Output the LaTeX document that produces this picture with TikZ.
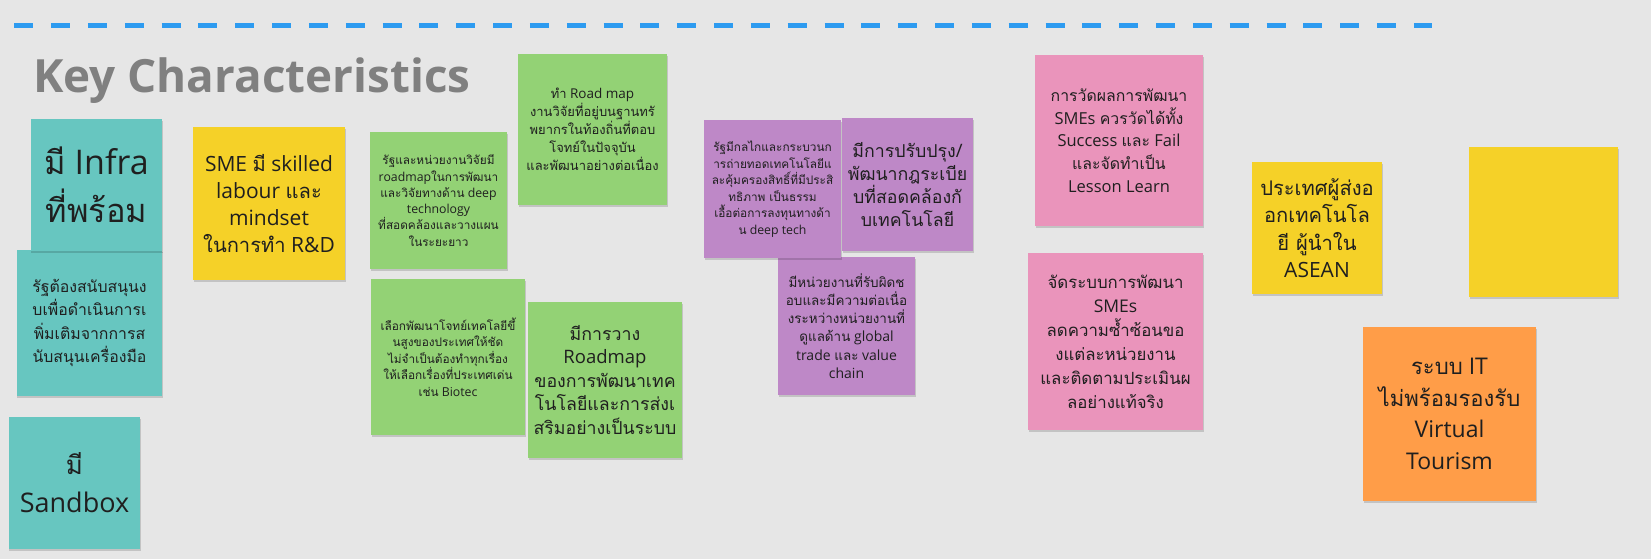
\documentclass[tikz,border=0pt]{standalone}
\usepackage{fontspec}
\setmainfont{Open Sans}
\newfontfamily\thaifont[Script=Thai,Scale=0.96]{Loma}
\newcommand\T[1]{{\thaifont #1}}
\usetikzlibrary{shadows}
\definecolor{bg}{HTML}{E6E6E6}
\definecolor{ink}{HTML}{1F1F1F}
\definecolor{titlegray}{HTML}{808080}
\definecolor{dashblue}{HTML}{2D9BF0}
\definecolor{cteal}{HTML}{67C6C0}
\definecolor{cyellow}{HTML}{F5D128}
\definecolor{cgreen}{HTML}{93D275}
\definecolor{cviolet}{HTML}{BE88C7}
\definecolor{cpink}{HTML}{EA94BB}
\definecolor{corange}{HTML}{FF9D48}
\tikzset{
  note/.style={inner sep=0pt, align=center, text=ink,
    drop shadow={shadow xshift=0.5bp, shadow yshift=-2bp, opacity=0.15, fill=black}},
  fs/.style 2 args={font=\fontsize{#1bp}{#2bp}\selectfont},
  sepline/.style={draw=dashblue, line width=4.5bp, dash pattern=on 19bp off 17.83bp}
}
\begin{document}
\begin{tikzpicture}[x=1bp,y=-1bp]
\useasboundingbox (0,0) rectangle (1651,559);
\fill[bg] (0,0) rectangle (1651,559);

\coordinate (dl) at (14.3,25.5);
\coordinate (dr) at (1432.3,25.5);
\draw[sepline] (dl) -- (dr);

\node[anchor=base west, inner sep=0pt, text=titlegray,
  font=\fontsize{45.8bp}{50bp}\selectfont\bfseries] (title) at (33,92.7) {Key Characteristics};

% teal
\node[note, fill=cteal, minimum width=145bp, minimum height=146bp, fs={16.5}{23.5}] (n2) at (89.5,323)
  {\T{รัฐต้องสนับสนุนง}\\\T{บเพื่อดำเนินการเ}\\\T{พิ่มเติมจากการส}\\\T{นับสนุนเครื่องมือ}};
\node[note, fill=cteal, minimum width=131bp, minimum height=132bp, fs={34}{48}] (n1) at (96.5,185)
  {\T{มี} Infra\\\T{ที่พร้อม}};
\node[note, fill=cteal, minimum width=131bp, minimum height=132bp, fs={27}{38}] (n3) at (74.5,483)
  {\T{มี}\\Sandbox};

% yellow
\node[note, fill=cyellow, minimum width=152bp, minimum height=153bp, fs={21}{27}] (n4) at (269,203.5)
  {SME \T{มี} skilled\\labour \T{และ}\\mindset\\\T{ในการทำ} R\&D};

% green
\node[note, fill=cgreen, minimum width=137bp, minimum height=137bp, fs={12.3}{16.3}] (n5) at (438.5,200.5)
  {\T{รัฐและหน่วยงานวิจัยมี}\\roadmap\T{ในการพัฒนา}\\\T{และวิจัยทางด้าน} deep\\technology\\\T{ที่สอดคล้องและวางแผน}\\\T{ในระยะยาว}};
\node[note, fill=cgreen, minimum width=149bp, minimum height=151bp, fs={13.5}{18}] (n6) at (592.5,129.5)
  {\T{ทำ} Road map\\\T{งานวิจัยที่อยู่บนฐานทรั}\\\T{พยากรในท้องถิ่นที่ตอบ}\\\T{โจทย์ในปัจจุบัน}\\\T{และพัฒนาอย่างต่อเนื่อง}};
\node[note, fill=cgreen, minimum width=154bp, minimum height=156bp, fs={12.3}{16.5}] (n7) at (448,357)
  {\T{เลือกพัฒนาโจทย์เทคโลยีขึ้}\\\T{นสูงของประเทศให้ชัด}\\\T{ไม่จำเป็นต้องทำทุกเรื่อง}\\\T{ให้เลือกเรื่องที่ประเทศเด่น}\\\T{เช่น} Biotec};
\node[note, fill=cgreen, minimum width=154bp, minimum height=156bp, fs={18.5}{23.5}] (n8) at (605,380)
  {\T{มีการวาง}\\Roadmap\\\T{ของการพัฒนาเทค}\\\T{โนโลยีและการส่งเ}\\\T{สริมอย่างเป็นระบบ}};

% violet
\node[note, fill=cviolet, minimum width=137bp, minimum height=138bp, fs={14}{18.3}] (n11) at (846.5,326)
  {\T{มีหน่วยงานที่รับผิดช}\\\T{อบและมีความต่อเนื่อ}\\\T{งระหว่างหน่วยงานที่}\\\T{ดูแลด้าน} global\\trade \T{และ} value\\chain};
\node[note, fill=cviolet, minimum width=137bp, minimum height=138bp, fs={12.3}{16.5}] (n9) at (772.5,189)
  {\T{รัฐมีกลไกและกระบวนก}\\\T{ารถ่ายทอดเทคโนโลยีแ}\\\T{ละคุ้มครองสิทธิ์ที่มีประสิ}\\\T{ทธิภาพ เป็นธรรม}\\\T{เอื้อต่อการลงทุนทางด้า}\\\T{น} deep tech};
\node[note, fill=cviolet, minimum width=131bp, minimum height=133bp, fs={18.5}{23}] (n10) at (907.5,184.5)
  {\T{มีการปรับปรุง}/\\\T{พัฒนากฎระเบีย}\\\T{บที่สอดคล้องกั}\\\T{บเทคโนโลยี}};

% pink
\node[note, fill=cpink, minimum width=168bp, minimum height=171bp, fs={16.5}{22.7}] (n12) at (1119,140.5)
  {\T{การวัดผลการพัฒนา}\\SMEs \T{ควรวัดได้ทั้ง}\\Success \T{และ} Fail\\\T{และจัดทำเป็น}\\Lesson Learn};
\node[note, fill=cpink, minimum width=175bp, minimum height=177bp, fs={17.5}{24}] (n13) at (1115.5,341.5)
  {\T{จัดระบบการพัฒนา}\\SMEs\\\T{ลดความซ้ำซ้อนขอ}\\\T{งแต่ละหน่วยงาน}\\\T{และติดตามประเมินผ}\\\T{ลอย่างแท้จริง}};

% right side
\node[note, fill=cyellow, minimum width=130bp, minimum height=132bp, fs={21}{27.5}] (n14) at (1317,228)
  {\T{ประเทศผู้ส่งอ}\\\T{อกเทคโนโล}\\\T{ยี ผู้นำใน}\\ASEAN};
\node[note, fill=cyellow, minimum width=149bp, minimum height=150bp] (n15) at (1543.5,222) {};
\node[note, fill=corange, minimum width=173bp, minimum height=174bp, fs={23}{31.7}] (n16) at (1449.5,414)
  {\T{ระบบ} IT\\\T{ไม่พร้อมรองรับ}\\Virtual\\Tourism};
\end{tikzpicture}
\end{document}
